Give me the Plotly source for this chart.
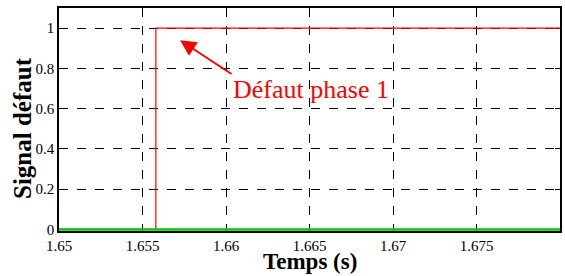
import plotly.graph_objects as go

# Data
t_red = [1.65, 1.6558, 1.6558, 1.68]
sig_red = [0, 0, 1, 1]
t_green = [1.65, 1.68]
sig_green = [0, 0]
x_ticks = [1.65, 1.655, 1.66, 1.665, 1.67, 1.675]
x_tick_labels = ["1.65", "1.655", "1.66", "1.665", "1.67", "1.675"]
y_ticks = [0, 0.2, 0.4, 0.6, 0.8, 1]
y_tick_labels = ["0", "0.2", "0.4", "0.6", "0.8", "1"]

font = "Liberation Serif, Times New Roman, serif"

fig = go.Figure()
fig.add_trace(go.Scatter(x=t_red, y=sig_red, mode="lines",
                         line=dict(color="#ff0000", width=1.2), showlegend=False))
fig.add_trace(go.Scatter(x=t_green, y=sig_green, mode="lines",
                         line=dict(color="#00c800", width=2.5), showlegend=False))

axis_common = dict(
    showline=True, linecolor="black", linewidth=1.5, mirror="ticks",
    ticks="inside", ticklen=5, tickcolor="black",
    showgrid=True, gridcolor="black", griddash="dash", gridwidth=1,
    zeroline=False, automargin=False, layer="below traces",
    tickfont=dict(family=font, size=15, color="black"),
)

fig.update_xaxes(range=[1.65, 1.68], tickvals=x_ticks, ticktext=x_tick_labels, **axis_common)
fig.update_yaxes(range=[-0.008, 1.1], tickvals=y_ticks, ticktext=y_tick_labels, **axis_common)

# Axis titles as annotations for precise placement
fig.add_annotation(x=0.5, y=0, xref="paper", yref="paper", xanchor="center", yanchor="middle",
                   yshift=-30, text="<b>Temps (s)</b>", showarrow=False,
                   font=dict(family=font, size=23, color="black"))
fig.add_annotation(x=0, y=0.5, xref="paper", yref="paper", xanchor="center", yanchor="middle",
                   xshift=-37, yshift=-8.5, textangle=-90, text="<b>Signal défaut</b>", showarrow=False,
                   font=dict(family=font, size=25, color="black"))

fig.add_annotation(x=1.65725, y=0.94, ax=1.66042, ay=0.767, axref="x", ayref="y",
                   xref="x", yref="y", text="", showarrow=True,
                   arrowhead=2, arrowsize=1.6, arrowwidth=2, arrowcolor="#ff0000")
fig.add_annotation(x=1.6651, y=0.695, xref="x", yref="y", text="Défaut phase 1",
                   showarrow=False, font=dict(family=font, size=26, color="#ff0000"),
                   bgcolor="rgba(0,0,0,0)")

fig.update_layout(width=565, height=276, margin=dict(l=59, r=5, t=8, b=45),
                  plot_bgcolor="white", paper_bgcolor="white")

fig.write_html("out.html", config={"displayModeBar": False},
               post_script="document.body.style.margin='0';")
